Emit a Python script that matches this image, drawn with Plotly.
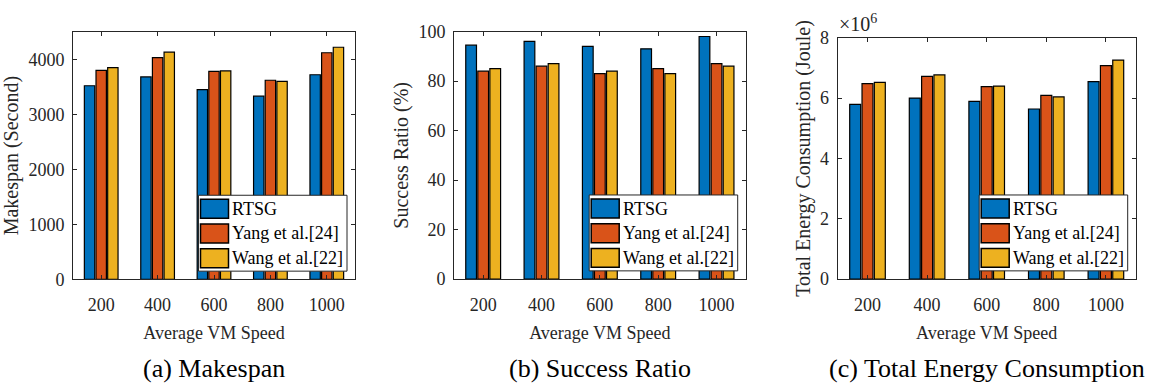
import plotly.graph_objects as go

# ---- data -------------------------------------------------------------
speeds = [200, 400, 600, 800, 1000]
series_names = ["RTSG", "Yang et al.[24]", "Wang et al.[22]"]

makespan_rtsg = [3520, 3680, 3450, 3330, 3720]
makespan_yang = [3800, 4030, 3780, 3620, 4120]
makespan_wang = [3850, 4130, 3790, 3600, 4220]

success_rtsg = [94.5, 96, 94, 93, 98]
success_yang = [84, 86, 83, 85, 87]
success_wang = [85, 87, 84, 83, 86]

energy_rtsg = [5.79e6, 6.00e6, 5.89e6, 5.64e6, 6.55e6]
energy_yang = [6.48e6, 6.72e6, 6.38e6, 6.09e6, 7.08e6]
energy_wang = [6.52e6, 6.77e6, 6.40e6, 6.04e6, 7.26e6]

makespan_ticks = [0, 1000, 2000, 3000, 4000]
success_ticks = [0, 20, 40, 60, 80, 100]
energy_ticks = [0, 2e6, 4e6, 6e6, 8e6]
energy_ticktext = ["0", "2", "4", "6", "8"]

colors = ["#0072BD", "#D95319", "#EDB120"]

# ---- layout helpers ----------------------------------------------------
W, H = 1150, 389
FONT = "Liberation Serif"
AX = "#262626"


def X(px):
    return px / W


def Y(py):
    return 1 - py / H


# plot areas in pixels: left, right, top, bottom
areas = [(73, 355, 23, 284), (454, 745.7, 22.7, 283.7), (837.7, 1135.7, 29.3, 283.7)]

panels = [
    dict(vals=[makespan_rtsg, makespan_yang, makespan_wang], yrange=[0, 4500],
         ticks=makespan_ticks, ticktext=None, ytitle="Makespan (Second)",
         caption="(a) Makespan"),
    dict(vals=[success_rtsg, success_yang, success_wang], yrange=[0, 100],
         ticks=success_ticks, ticktext=None, ytitle="Success Ratio (%)",
         caption="(b) Success Ratio"),
    dict(vals=[energy_rtsg, energy_yang, energy_wang], yrange=[0, 8e6],
         ticks=energy_ticks, ticktext=energy_ticktext,
         ytitle="Total Energy Consumption (Joule)",
         caption="(c) Total Energy Consumption"),
]

fig = go.Figure()
layout = dict(
    width=W, height=H, margin=dict(l=0, r=0, t=0, b=0),
    paper_bgcolor="white", plot_bgcolor="white",
    barmode="group", bargap=0.38, bargroupgap=0.11,
    showlegend=False, font=dict(family=FONT, color=AX, size=18),
)
shapes, annotations = [], []

for i, (p, (l, r, t, b)) in enumerate(zip(panels, areas)):
    suffix = "" if i == 0 else str(i + 1)
    xa, ya = "x" + suffix, "y" + suffix
    for name, vals, c in zip(series_names, p["vals"], colors):
        fig.add_trace(go.Bar(
            x=speeds, y=vals, name=name, xaxis=xa, yaxis=ya,
            marker=dict(color=c, line=dict(color="#000000", width=1.2)),
            offsetgroup=name,
        ))
    layout["xaxis" + suffix] = dict(
        domain=[X(l), X(r)], anchor=ya, range=[100, 1100],
        tickvals=speeds, ticks="inside", ticklen=4, tickcolor=AX,
        showline=True, linecolor=AX, linewidth=1, mirror="allticks",
        showgrid=False, zeroline=False, ticklabelstandoff=9,
        tickfont=dict(family=FONT, size=18, color=AX),
        title=dict(text="Average VM Speed", font=dict(family=FONT, size=18, color=AX),
                   standoff=12),
    )
    ydict = dict(
        domain=[Y(b), Y(t)], anchor=xa, range=p["yrange"],
        tickvals=p["ticks"], ticks="inside", ticklen=4, tickcolor=AX,
        showline=True, linecolor=AX, linewidth=1, mirror="allticks",
        showgrid=False, zeroline=False, ticklabelstandoff=4,
        tickfont=dict(family=FONT, size=18, color=AX),
        title=dict(text=p["ytitle"], font=dict(family=FONT, size=20, color=AX), standoff=4),
    )
    if p["ticktext"] is not None:
        ydict["ticktext"] = p["ticktext"]
    layout["yaxis" + suffix] = ydict

    # caption under each panel
    annotations.append(dict(
        text=p["caption"], x=X((l + r) / 2), y=Y(378), xref="paper", yref="paper",
        xanchor="center", yanchor="middle", showarrow=False,
        font=dict(family=FONT, size=26, color="#000000"),
    ))

    # legend box in the lower-right corner of each panel
    bx1 = r - 8
    bx0 = bx1 - 148.5
    by1 = b - 8.7
    by0 = by1 - 80
    shapes.append(dict(type="rect", xref="paper", yref="paper",
                       x0=X(bx0), x1=X(bx1), y0=Y(by1), y1=Y(by0),
                       fillcolor="white", line=dict(color=AX, width=1)))
    for k, (name, c) in enumerate(zip(series_names, colors)):
        ry0 = by0 + 4.3 + 26 * k
        ry1 = ry0 + 20
        shapes.append(dict(type="rect", xref="paper", yref="paper",
                           x0=X(bx0 + 2), x1=X(bx0 + 30), y0=Y(ry1), y1=Y(ry0),
                           fillcolor=c, line=dict(color="#000000", width=1.5)))
        annotations.append(dict(
            text=name, x=X(bx0 + 31.5), y=Y((ry0 + ry1) / 2), xref="paper", yref="paper",
            xanchor="left", yanchor="middle", showarrow=False,
            font=dict(family=FONT, size=18, color="#000000"),
        ))

# exponent label for the energy axis
annotations.append(dict(
    text="×10<sup>6</sup>", x=X(837), y=Y(28), xref="paper", yref="paper",
    xanchor="left", yanchor="bottom", showarrow=False,
    font=dict(family=FONT, size=20, color=AX),
))

layout["shapes"] = shapes
layout["annotations"] = annotations
fig.update_layout(**layout)
fig.write_html("out.html")
